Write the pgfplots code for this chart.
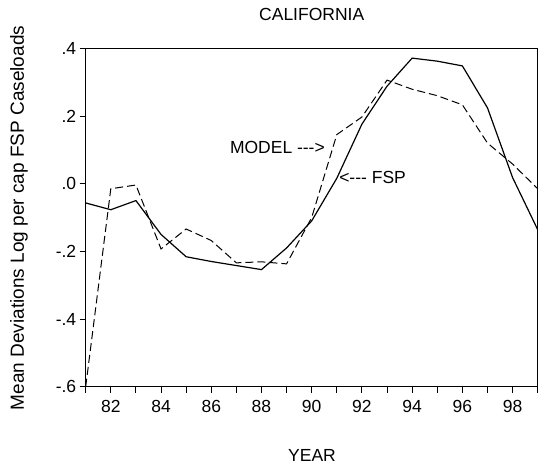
\documentclass[border=0pt]{standalone}
\usepackage{fontspec}
\setmainfont{Liberation Sans}
\usepackage{pgfplots}
\pgfplotsset{compat=1.18}

% FSP caseloads (solid) and model fit (dashed)
\pgfplotstableread{
year fsp model
81 -0.057 -0.600
82 -0.077 -0.015
83 -0.050 -0.004
84 -0.150 -0.193
85 -0.216 -0.134
86 -0.230 -0.168
87 -0.242 -0.234
88 -0.254 -0.231
89 -0.190 -0.237
90 -0.110 -0.100
91  0.016  0.145
92  0.176  0.197
93  0.288  0.306
94  0.371  0.279
95  0.362  0.260
96  0.348  0.233
97  0.224  0.120
98  0.018  0.058
99 -0.136 -0.015
}\datatable

\begin{document}
\begin{tikzpicture}
\useasboundingbox (0,0) rectangle (539bp,472bp);
\begin{axis}[
    at={(85.7bp,85.3bp)}, anchor=south west,
    scale only axis,
    width=452bp, height=338.4bp,
    xmin=81, xmax=99, ymin=-0.6, ymax=0.4,
    axis line style={line width=1.4bp},
    tick align=outside,
    xtick pos=bottom, ytick pos=left,
    xtick={82,84,...,98},
    minor xtick={81,83,...,99},
    major tick length=6bp, minor tick length=6bp,
    every tick/.style={black, line width=0.9bp},
    ytick={-0.6,-0.4,-0.2,0,0.2,0.4},
    yticklabels={-.6,-.4,-.2,.0,.2,.4},
    tick label style={font=\fontsize{17.5bp}{21bp}\selectfont},
    xticklabel style={yshift=-4bp},
    /pgf/number format/assume math mode=true,
]
\addplot[black, line width=1.2bp] table[x=year, y=fsp] {\datatable};
\addplot[black, line width=1bp, dash pattern=on 8bp off 4bp] table[x=year, y=model] {\datatable};
\node[anchor=east, inner sep=0pt, font=\fontsize{17.5bp}{21bp}\selectfont]
    at (axis cs:90.53,0.106) {MODEL {-}{-}{-}>};
\node[anchor=west, inner sep=0pt, font=\fontsize{17.5bp}{21bp}\selectfont]
    at (axis cs:91.09,0.018) {<{-}{-}{-} FSP};
\end{axis}
\node[font=\fontsize{17.5bp}{21bp}\selectfont] at (311.7bp,457.7bp) {CALIFORNIA};
\node[font=\fontsize{17.5bp}{21bp}\selectfont] at (312bp,16.3bp) {YEAR};
\node[rotate=90, font=\fontsize{19bp}{22bp}\selectfont] at (19bp,254bp)
    {Mean Deviations Log per cap FSP Caseloads};
\end{tikzpicture}
\end{document}
